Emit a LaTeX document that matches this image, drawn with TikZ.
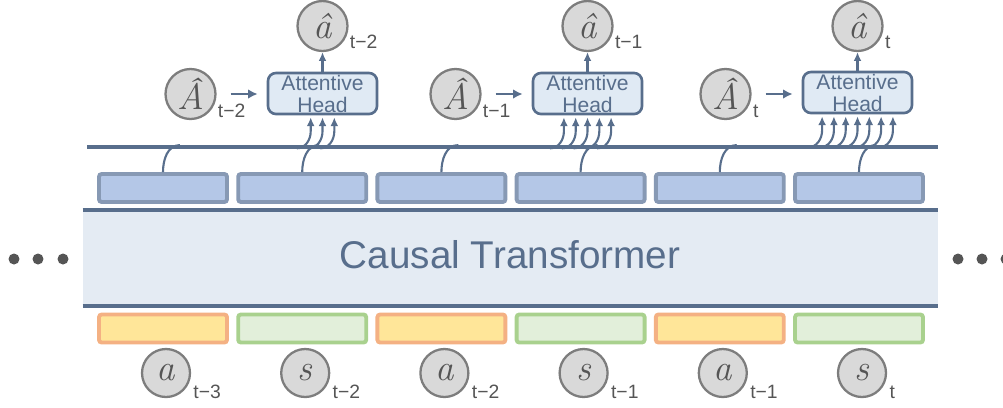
\documentclass[tikz,border=0pt]{standalone}
\usepackage{fontspec}
\setmainfont{Liberation Sans}
\newfontfamily\lmfont{Latin Modern Roman}
\usetikzlibrary{arrows.meta, positioning, calc}

\definecolor{tfblue}{RGB}{88,110,140}
\definecolor{tokfill}{RGB}{180,199,231}
\definecolor{tokline}{RGB}{135,153,180}
\definecolor{tffill}{RGB}{228,235,243}
\definecolor{attnfill}{RGB}{224,234,244}
\definecolor{actfill}{RGB}{255,230,153}
\definecolor{actline}{RGB}{244,177,131}
\definecolor{stfill}{RGB}{226,239,218}
\definecolor{stline}{RGB}{169,209,142}
\definecolor{vfill}{RGB}{217,217,217}
\definecolor{vline}{RGB}{125,125,125}
\definecolor{ink}{RGB}{85,85,85}

\tikzset{
  tok/.style={draw=tokline, fill=tokfill, line width=2.2pt, rounded corners=1.5pt,
    minimum width=2.56cm, minimum height=0.56cm, inner sep=0pt},
  acttok/.style={tok, draw=actline, fill=actfill},
  sttok/.style={tok, draw=stline, fill=stfill},
  vnode/.style={circle, draw=vline, fill=vfill, line width=1.3pt, minimum size=0.96cm,
    inner sep=0pt, text=ink, font=\lmfont\itshape\fontsize{21}{21}\selectfont},
  hatnode/.style={vnode, minimum size=1cm},
  sub/.style={text=ink, font=\fontsize{11}{11}\selectfont, inner sep=0pt, anchor=west},
  attn/.style={draw=tfblue, fill=attnfill, line width=1.5pt, rounded corners=4.5pt,
    minimum width=2.18cm, minimum height=0.82cm, align=center, text=tfblue,
    font=\fontsize{12}{12.5}\selectfont, inner sep=0pt},
  wire/.style={draw=tfblue, line width=1.2pt},
  feed/.style={wire, -{Latex[length=5pt,width=4.5pt]}},
}

\begin{document}
\begin{tikzpicture}[x=0.02cm, y=-0.02cm]
  \useasboundingbox (0,0) rectangle (1003,407);

  % transformer body
  \node[fill=tffill, minimum width=17.1cm, minimum height=1.92cm, inner sep=0pt] (tf) at (510.5,258) {};
  \node[text=tfblue, font=\fontsize{22}{22}\selectfont] (tflabel) at (510,255) {Causal Transformer};
  \draw[tfblue, line width=2.3pt] (tf.north west) -- (tf.north east) (tf.south west) -- (tf.south east);

  % output bus
  \coordinate (busL) at (87,147);
  \coordinate (busR) at (938,147);
  \draw[tfblue, line width=2.2pt] (busL) -- (busR);

  % input and output tokens
  \foreach \i/\sty/\sym/\t in {0/acttok/a/t−3, 1/sttok/s/t−2, 2/acttok/a/t−2,
                               3/sttok/s/t−1, 4/acttok/a/t−1, 5/sttok/s/t} {
    \node[tok] (u\i) at (163+139.2*\i,188) {};
    \draw[wire] (u\i.north) to[out=90,in=180] ++(17,-27);
    \node[\sty] (l\i) at (163+139.2*\i,328.5) {};
    \node[vnode] (x\i) at (166+139.2*\i,373) {\sym};
    \node[sub] (xs\i) at ([shift={(2,19)}]x\i.east) {\t};
  }

  % attentive heads
  \foreach \hx/\hy/\k/\t in {322.5/93.5/3/t−2, 587.5/93.5/5/t−1, 857.5/92.5/7/t} {
    \node[attn] (h\k) at (\hx,\hy) {Attentive\\Head};
    \node[hatnode] (ah\k) at (\hx,26) {â};
    \node[sub] (ahs\k) at ([shift={(1,16)}]ah\k.east) {\t};
    \node[hatnode] (Ah\k) at (\hx-132,94) {Â};
    \node[sub] (Ahs\k) at ([shift={(1,17)}]Ah\k.east) {\t};
    \draw[feed, line width=1.6pt, -{Latex[length=5.5pt,width=5.5pt]}, shorten <=0.28cm, shorten >=0.18cm]
      (Ah\k.east) -- (Ah\k.east -| h\k.west);
    \draw[feed] (h\k.north) -- (ah\k.south);
    \foreach \j in {1,...,\k}
      \draw[feed] ($(h\k.south)+({(\j-(\k+1)/2)*11.8-14},33)$) to[out=0,in=-90] ++(14,-17) -- ++(0,-14);
  }

  % continuation dots
  \foreach \dx in {14,38,63,958,982,1006}
    \fill[ink] (\dx,259) circle (0.11cm);
\end{tikzpicture}
\end{document}
